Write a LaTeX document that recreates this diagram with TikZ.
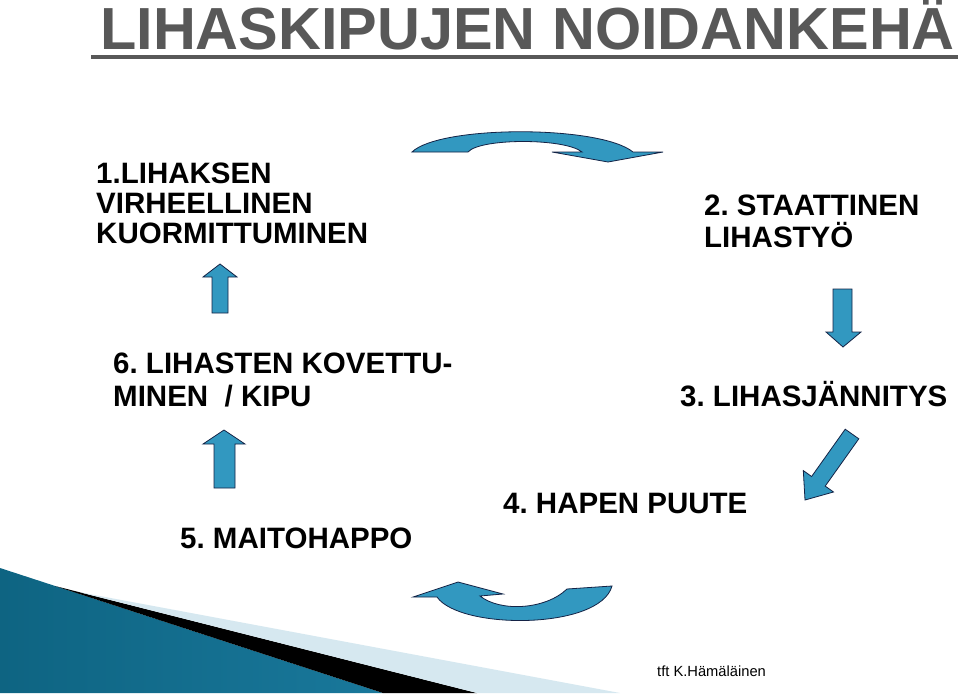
\documentclass[tikz,border=0pt]{standalone}
\usepackage{fontspec}
\setmainfont{Liberation Sans}
\newfontfamily\heavy{Liberation Sans Bold}
\newfontfamily\titlef{Liberation Sans Bold}
\frenchspacing
\definecolor{arrowfill}{RGB}{50,152,192}
\definecolor{arrowline}{RGB}{20,35,70}
\definecolor{titlegray}{RGB}{88,88,88}
\definecolor{tealdark}{RGB}{14,100,130}
\definecolor{teallight}{RGB}{80,175,212}
\definecolor{tealend}{RGB}{25,120,155}
\definecolor{paleband}{RGB}{214,232,240}
\tikzset{
  blockarrow/.style={fill=arrowfill, draw=arrowline, line width=0.8pt, line join=miter},
  txt/.style={inner sep=0pt, anchor=base west, align=left, text=black},
}
\begin{document}
\begin{tikzpicture}[x=1pt,y=-1pt]
\useasboundingbox (0,0) rectangle (960,693);
\fill[white] (0,0) rectangle (960,693);

% bottom-left swoosh
\shade[left color=tealdark, middle color=teallight, right color=tealend]
  (0,568) -- (383,693) -- (0,693) -- cycle;
\fill[black] (55,586) -- (477,693) -- (383,693) -- cycle;
\fill[paleband] (80,592.3) -- (620,693) -- (477,693) -- cycle;

% title
\node[inner sep=0pt, anchor=base west, text=titlegray,
      font=\titlef\fontsize{59.4}{60}\selectfont] (title) at (100,50) {LIHASKIPUJEN NOIDANKEHÄ};
\draw[titlegray, line width=4pt] (91,57) -- (958,57);

% texts (anchor base = baseline of the last line)
\node[txt, font=\heavy\fontsize{29.5}{30}\selectfont] (t1) at (96,243)
  {1.LIHAKSEN\\VIRHEELLINEN\\KUORMITTUMINEN};
\node[txt, font=\heavy\fontsize{29.5}{32}\selectfont] (t2) at (704,247)
  {2. STAATTINEN\\LIHASTYÖ};
\node[txt, font=\heavy\fontsize{29.5}{33}\selectfont] (t3) at (680,406)
  {3. LIHASJÄNNITYS};
\node[txt, font=\heavy\fontsize{29.5}{33}\selectfont] (t4) at (503,513)
  {4. HAPEN PUUTE};
\node[txt, font=\heavy\fontsize{29.5}{33}\selectfont] (t5) at (180,548)
  {5. MAITOHAPPO};
\node[txt, font=\heavy\fontsize{29.5}{33}\selectfont] (t6) at (113,406)
  {6. LIHASTEN KOVETTU-\\MINEN\ \ / KIPU};
\node[txt, font=\fontsize{14.7}{16}\selectfont] (foot) at (657,676)
  {tft K.Hämäläinen};

% top curved arrow (1 -> 2)
\draw[blockarrow] (412,152) .. controls (440,125) and (600,125) .. (633,152)
  -- (663,152) -- (608,162) -- (552,152) -- (582,152)
  .. controls (565,138) and (480,138) .. (468,152) -- cycle;

% down arrow (2 -> 3)
\draw[blockarrow] (833,289) -- (852,289) -- (852,332) -- (861,332) -- (843,347)
  -- (826,332) -- (833,332) -- cycle;

% diagonal arrow (3 -> 4)
\draw[blockarrow] (845.2,429.2) -- (858.8,438.8) -- (825.2,486.1) -- (833.5,492.0)
  -- (805,500) -- (803.3,470.6) -- (811.6,476.5) -- cycle;

% bottom curved arrow (4 -> 5)
\draw[blockarrow] (413,597) -- (458,582) -- (503,594) -- (480,596)
  .. controls (500,612) and (545,610) .. (567,589) -- (612,586)
  .. controls (600,630) and (460,630) .. (437,597) -- cycle;

% up arrow (5 -> 6)
\draw[blockarrow] (214,488) -- (235,488) -- (235,444) -- (245,444) -- (224,430)
  -- (203,444) -- (214,444) -- cycle;

% up arrow (6 -> 1)
\draw[blockarrow] (212,313) -- (228,313) -- (228,277) -- (237,277) -- (220,264)
  -- (203,277) -- (212,277) -- cycle;
\end{tikzpicture}
\end{document}
